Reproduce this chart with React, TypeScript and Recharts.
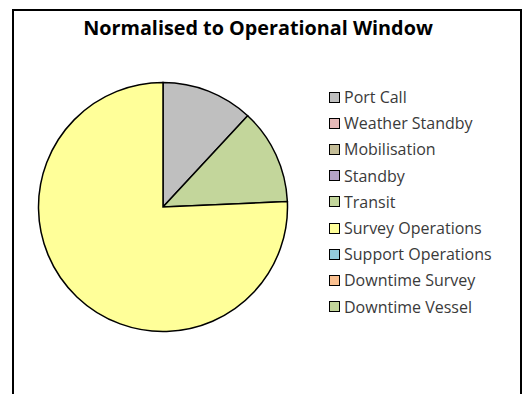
import React from "react";
import { PieChart, Pie, Cell, Legend } from "recharts";

const categories = [
  "Port Call",
  "Weather Standby",
  "Mobilisation",
  "Standby",
  "Transit",
  "Survey Operations",
  "Support Operations",
  "Downtime Survey",
  "Downtime Vessel",
];
const values = [11.9, 0, 0, 0, 12.4, 75.7, 0, 0, 0];
const colors = [
  "#BFBFBF",
  "#E6B9B8",
  "#C4BD97",
  "#B3A2C7",
  "#C3D69B",
  "#FFFF99",
  "#93CDDD",
  "#FAC090",
  "#C3D69B",
];
const title = "Normalised to Operational Window";

const data = categories.map((name, i) => ({ name, value: values[i] }));

const FONT = "'Open Sans', 'Noto Sans', sans-serif";

const LegendContent = () => (
  <div style={{ fontFamily: FONT, fontSize: 16, color: "#3a3a3a", textAlign: "left" }}>
    {categories.map((c, i) => (
      <div
        key={c}
        style={{ display: "flex", alignItems: "center", height: 26.2 }}
      >
        <span
          style={{
            display: "inline-block",
            width: 9,
            height: 9,
            background: colors[i],
            border: "1.5px solid #000",
            marginRight: 4,
            flex: "none",
          }}
        />
        <span style={{ whiteSpace: "nowrap" }}>{c}</span>
      </div>
    ))}
  </div>
);

export default function App() {
  return (
    <div style={{ position: "absolute", left: 0, top: 0, width: 523, height: 394, overflow: "hidden", background: "#fff" }}>
      <div
        style={{
          position: "absolute",
          left: 12,
          top: 9,
          width: 510,
          height: 420,
          border: "2px solid #000",
          boxSizing: "border-box",
        }}
      />
      <div
        style={{
          position: "absolute",
          left: 0,
          top: 14,
          width: 516,
          textAlign: "center",
          fontFamily: FONT,
          fontWeight: 700,
          fontSize: 19.8,
          color: "#000",
        }}
      >
        {title}
      </div>
      <div style={{ position: "absolute", left: 0, top: 0 }}>
        <PieChart width={523} height={394} margin={{ top: 0, right: 0, bottom: 0, left: 0 }}>
          <Pie
            data={data}
            dataKey="value"
            nameKey="name"
            cx={163}
            cy={207}
            outerRadius={124.5}
            startAngle={90}
            endAngle={-270}
            stroke="#000"
            strokeWidth={1.5}
            isAnimationActive={false}
          >
            {data.map((d, i) => (
              <Cell key={d.name} fill={colors[i]} />
            ))}
          </Pie>
          <Legend
            layout="vertical"
            verticalAlign="top"
            align="right"
            content={<LegendContent />}
            wrapperStyle={{ left: 329, top: 84, width: 190 }}
          />
        </PieChart>
      </div>
    </div>
  );
}
